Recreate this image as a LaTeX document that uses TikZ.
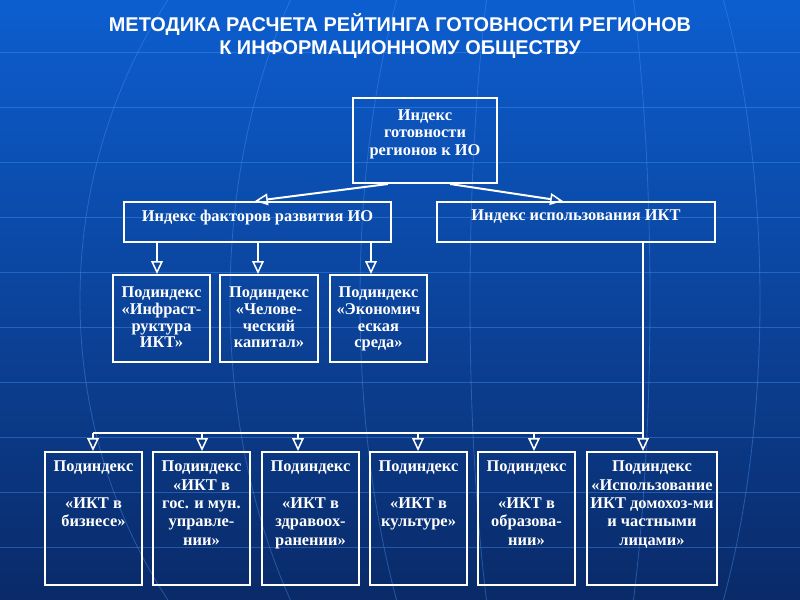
\documentclass[tikz,border=0pt]{standalone}
\usepackage{fontspec}
\setmainfont{Liberation Serif}
\newfontfamily\titlefont{Liberation Sans}
\usetikzlibrary{arrows.meta,fit,positioning}

\definecolor{bgtop}{RGB}{12,94,208}
\definecolor{bgmid}{RGB}{11,72,162}
\definecolor{bgbot}{RGB}{10,42,104}
\definecolor{gridline}{RGB}{70,140,235}

\tikzset{
  box/.style={draw=white, line width=1.7pt, inner sep=0pt},
  lbl/.style={text=white, font=\bfseries\fontsize{14}{14.2}\selectfont, align=center, anchor=north, inner sep=0pt},
  lbltop/.style={lbl, font=\bfseries\fontsize{14}{15}\selectfont},
  lbllow/.style={lbl, font=\bfseries\fontsize{14}{15.6}\selectfont},
  arr/.style={draw=white, line width=1.7pt, -{Triangle[open, length=11pt, width=10pt, line width=1.3pt]}},
  link/.style={draw=white, line width=1.7pt},
  globe/.style={draw=gridline, line width=0.7pt, opacity=0.45},
}

\begin{document}
\begin{tikzpicture}[x=0.03cm, y=-0.03cm]
  \useasboundingbox (0,0) rectangle (800,600);
  % background
  \shade[top color=bgtop, middle color=bgmid, bottom color=bgbot] (0,0) rectangle (800,600);
  \begin{scope}
    \clip (0,0) rectangle (800,600);
    \foreach \y in {52,107,...,547}
      \draw[globe] (0,\y) -- (800,\y);
    \foreach \r in {90,200,330,480}
      \draw[globe] (560,300) ellipse [x radius=\r, y radius=520];
  \end{scope}

  % title
  \node[text=white, font=\titlefont\bfseries\fontsize{17}{19}\selectfont, align=center] (title) at (400,36)
    {МЕТОДИКА РАСЧЕТА РЕЙТИНГА ГОТОВНОСТИ РЕГИОНОВ\\К ИНФОРМАЦИОННОМУ ОБЩЕСТВУ};

  % index
  \node[box, fit={(353,98) (497,183)}] (top) {};
  \node[lbltop] at ([yshift=-10.5pt]top.north) {Индекс\\готовности\\регионов к ИО};

  \node[box, fit={(124,202) (391,242)}] (fa) {};
  \node[lbl] at ([yshift=-7.5pt]fa.north) {Индекс факторов развития ИО};
  \node[box, fit={(437,202) (715,242)}] (iu) {};
  \node[lbl] at ([yshift=-7.5pt]iu.north) {Индекс использования ИКТ};

  \draw[arr] (388,0 |- top.south) -- (255,0 |- fa.north);
  \draw[arr] (450,0 |- top.south) -- (563,0 |- iu.north);

  % sub-indices of factors
  \node[box, fit={(113,275) (210,362)}] (s1) {};
  \node[lbl] at ([yshift=-11pt]s1.north) {Подиндекс\\«Инфраст-\\руктура\\ИКТ»};
  \node[box, fit={(220,275) (318,362)}] (s2) {};
  \node[lbl] at ([yshift=-11pt]s2.north) {Подиндекс\\«Челове-\\ческий\\капитал»};
  \node[box, fit={(330,275) (427,362)}] (s3) {};
  \node[lbl] at ([yshift=-11pt]s3.north) {Подиндекс\\«Экономич\\еская\\среда»};

  \foreach \x/\b in {157/s1, 258/s2, 371/s3}
    \draw[arr] (\x,0 |- fa.south) -- (\x,0 |- \b.north);

  % sub-indices of ICT use
  \node[box, fit={(45,452) (142,585)}] (b1) {};
  \node[lbllow] at ([yshift=-8.5pt]b1.north) {Подиндекс\\[15.6pt]«ИКТ в\\бизнесе»};
  \node[box, fit={(153,452) (250,585)}] (b2) {};
  \node[lbllow] at ([yshift=-8.5pt]b2.north) {Подиндекс\\«ИКТ в\\гос. и мун.\\управле-\\нии»};
  \node[box, fit={(262,452) (359,585)}] (b3) {};
  \node[lbllow] at ([yshift=-8.5pt]b3.north) {Подиндекс\\[15.6pt]«ИКТ в\\здравоох-\\ранении»};
  \node[box, fit={(370,452) (467,585)}] (b4) {};
  \node[lbllow] at ([yshift=-8.5pt]b4.north) {Подиндекс\\[15.6pt]«ИКТ в\\культуре»};
  \node[box, fit={(478,452) (575,585)}] (b5) {};
  \node[lbllow] at ([yshift=-8.5pt]b5.north) {Подиндекс\\[15.6pt]«ИКТ в\\образова-\\нии»};
  \node[box, fit={(587,452) (717,585)}] (b6) {};
  \node[lbllow] at ([yshift=-8.5pt]b6.north) {Подиндекс\\«Использование\\ИКТ домохоз-ми\\и частными\\лицами»};

  \coordinate (busR) at (643,433);
  \coordinate (busL) at (93,433);
  \draw[link] (643,0 |- iu.south) -- (busR) -- (busL);
  \foreach \x/\b in {93/b1, 202/b2, 298/b3, 418/b4, 534/b5, 643/b6}
    \draw[arr] (\x,0 |- busL) -- (\x,0 |- \b.north);
\end{tikzpicture}
\end{document}
